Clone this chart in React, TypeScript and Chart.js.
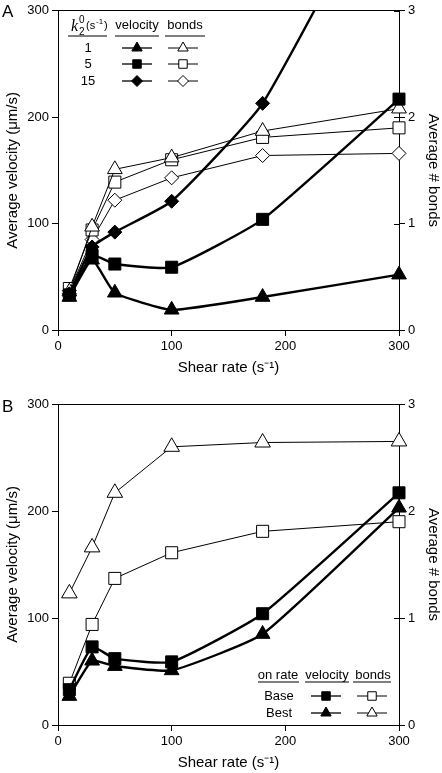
import React, { useEffect, useRef } from "react";
import { Chart, registerables } from "chart.js";

Chart.register(...registerables);

const FONT = "'Liberation Sans', Arial, Helvetica, sans-serif";
const SERIF = "'Liberation Serif', 'Times New Roman', serif";

// Shared x values (shear rate, 1/s)
const shearRates = [10, 30, 50, 100, 180, 300];

// Panel A: velocity (um/s) and bonds for k2^0 = 1, 5, 15
const velK1 = [31, 66, 35, 19, 31, 52];
const velK5 = [33, 70, 62, 59, 104, 217];
const velK15 = [34, 78, 92, 121, 213, 450];
const bondsK1 = [0.36, 0.97, 1.51, 1.62, 1.87, 2.08];
const bondsK5 = [0.39, 0.94, 1.39, 1.60, 1.81, 1.90];
const bondsK15 = [0.37, 0.85, 1.22, 1.43, 1.64, 1.66];

// Panel B: Base and Best on rate
const velBase = [33, 73, 62, 59, 104, 217];
const velBest = [27, 60, 55, 51, 85, 203];
const bondsBase = [0.39, 0.94, 1.37, 1.61, 1.81, 1.90];
const bondsBest = [1.23, 1.66, 2.17, 2.60, 2.64, 2.65];

// Axis ticks / labels
const xTicks = [0, 100, 200, 300];
const velTicks = [0, 100, 200, 300];
const bondTicks = [0, 1, 2, 3];
const legendA = ["1", "5", "15"];
const legendB = ["Base", "Best"];

type Mk = "triangle" | "rect" | "rectRot";

function drawMarker(ctx: CanvasRenderingContext2D, style: Mk, x: number, y: number, r: number, filled: boolean) {
  ctx.save();
  ctx.beginPath();
  if (style === "triangle") {
    ctx.moveTo(x, y - r);
    ctx.lineTo(x + r * 0.866, y + r * 0.5);
    ctx.lineTo(x - r * 0.866, y + r * 0.5);
    ctx.closePath();
  } else if (style === "rect") {
    const s = r * Math.SQRT1_2;
    ctx.rect(x - s, y - s, 2 * s, 2 * s);
  } else {
    ctx.moveTo(x, y - r);
    ctx.lineTo(x + r, y);
    ctx.lineTo(x, y + r);
    ctx.lineTo(x - r, y);
    ctx.closePath();
  }
  ctx.fillStyle = filled ? "#000" : "#fff";
  ctx.fill();
  ctx.lineWidth = 1;
  ctx.strokeStyle = "#000";
  ctx.stroke();
  ctx.restore();
}

function legendRow(ctx: CanvasRenderingContext2D, style: Mk, cx: number, y: number, half: number, r: number, filled: boolean, lw: number) {
  ctx.save();
  ctx.strokeStyle = "#000";
  ctx.lineWidth = lw;
  ctx.beginPath();
  ctx.moveTo(cx - half, y);
  ctx.lineTo(cx + half, y);
  ctx.stroke();
  ctx.restore();
  drawMarker(ctx, style, cx, y, r, filled);
}

function underline(ctx: CanvasRenderingContext2D, x1: number, x2: number, y: number) {
  ctx.save();
  ctx.strokeStyle = "#000";
  ctx.lineWidth = 1;
  ctx.beginPath();
  ctx.moveTo(x1, y);
  ctx.lineTo(x2, y);
  ctx.stroke();
  ctx.restore();
}

// Right-axis tick marks also reach a little inside the plot
const innerRightTicks = {
  id: "innerRightTicks",
  afterDraw(chart: any) {
    const s = chart.scales.y2;
    const ctx: CanvasRenderingContext2D = chart.ctx;
    ctx.save();
    ctx.strokeStyle = "#000";
    ctx.lineWidth = 1;
    bondTicks.forEach((v) => {
      const y = Math.round(s.getPixelForValue(v)) + 0.5;
      ctx.beginPath();
      ctx.moveTo(s.left - 5, y);
      ctx.lineTo(s.left, y);
      ctx.stroke();
    });
    ctx.restore();
  },
};

const legendPluginA = {
  id: "legendA",
  afterDraw(chart: any) {
    const ctx: CanvasRenderingContext2D = chart.ctx;
    ctx.save();
    ctx.fillStyle = "#000";
    ctx.font = `17px ${FONT}`;
    ctx.textAlign = "left";
    ctx.textBaseline = "middle";
    ctx.fillText("A", 2, 12);
    ctx.font = `italic 16px ${SERIF}`;
    ctx.textBaseline = "alphabetic";
    ctx.fillText("k", 71, 31);
    ctx.font = `10px ${FONT}`;
    ctx.fillText("2", 79, 35);
    ctx.fillText("0", 79, 23);
    ctx.font = `11px ${FONT}`;
    ctx.fillText("(s", 86, 29);
    ctx.font = `8px ${FONT}`;
    ctx.fillText("-1", 96, 24);
    ctx.font = `11px ${FONT}`;
    ctx.fillText(")", 104, 29);
    ctx.font = `13px ${FONT}`;
    ctx.textAlign = "center";
    ctx.textBaseline = "middle";
    ctx.fillText("velocity", 137, 25);
    ctx.fillText("bonds", 185, 25);
    underline(ctx, 68, 107, 36);
    underline(ctx, 115, 159, 36);
    underline(ctx, 165, 205, 36);
    const styles: Mk[] = ["triangle", "rect", "rectRot"];
    const ys = [48, 64, 81];
    legendA.forEach((lab, i) => {
      ctx.fillStyle = "#000";
      ctx.font = `13px ${FONT}`;
      ctx.textAlign = "center";
      ctx.textBaseline = "middle";
      ctx.fillText(lab, 88, ys[i]);
      const r = styles[i] === "rectRot" ? 5.5 : 6;
      legendRow(ctx, styles[i], 137, ys[i], 15, r, true, 1.3);
      legendRow(ctx, styles[i], 183, ys[i], 15, r, false, 1);
    });
    ctx.restore();
  },
};

const legendPluginB = {
  id: "legendB",
  afterDraw(chart: any) {
    const ctx: CanvasRenderingContext2D = chart.ctx;
    ctx.save();
    ctx.fillStyle = "#000";
    ctx.font = `17px ${FONT}`;
    ctx.textAlign = "left";
    ctx.textBaseline = "middle";
    ctx.fillText("B", 2, 21);
    ctx.font = `13px ${FONT}`;
    ctx.textAlign = "center";
    ctx.fillText("on rate", 278, 289);
    ctx.fillText("velocity", 327, 289);
    ctx.fillText("bonds", 373, 289);
    underline(ctx, 258, 299, 296);
    underline(ctx, 305, 349, 296);
    underline(ctx, 353, 391, 296);
    const styles: Mk[] = ["rect", "triangle"];
    const ys = [310, 327];
    legendB.forEach((lab, i) => {
      ctx.fillStyle = "#000";
      ctx.font = `13px ${FONT}`;
      ctx.textAlign = "center";
      ctx.textBaseline = "middle";
      ctx.fillText(lab, 279, ys[i]);
      legendRow(ctx, styles[i], 326, ys[i], 15, 6, true, 1.3);
      legendRow(ctx, styles[i], 372, ys[i], 15, 6, false, 1);
    });
    ctx.restore();
  },
};

function series(vals: number[]) {
  return shearRates.map((x, i) => ({ x, y: vals[i] }));
}

function ds(label: string, vals: number[], axis: string, style: Mk, filled: boolean, thick: boolean, r: number, clip: any = false) {
  return {
    type: "line" as const,
    label,
    data: series(vals),
    xAxisID: "x",
    yAxisID: axis,
    borderColor: "#000",
    borderWidth: thick ? 2.4 : 1,
    pointStyle: style,
    pointRadius: r,
    pointHoverRadius: r,
    pointBackgroundColor: filled ? "#000" : "#fff",
    pointBorderColor: "#000",
    pointBorderWidth: 1,
    tension: thick ? 0.15 : 0,
    clip,
    fill: false,
  };
}

function makeOptions(topPad: number, xHeight: number, xTitlePadBottom: number): any {
  const tickFont = { family: FONT, size: 13 };
  const titleFont = { family: FONT, size: 15 };
  const grid = { display: true, drawOnChartArea: false, drawTicks: true, tickLength: 6, color: "#000", lineWidth: 1 };
  const border = { display: true, color: "#000", width: 1 };
  return {
    responsive: false,
    animation: false,
    events: [],
    layout: { padding: { top: topPad, left: 0, right: 0, bottom: 0 } },
    plugins: { legend: { display: false }, tooltip: { enabled: false }, title: { display: false } },
    scales: {
      x: {
        type: "linear",
        position: "bottom",
        min: 0,
        max: 300,
        afterBuildTicks: (s: any) => { s.ticks = xTicks.map((v) => ({ value: v })); },
        ticks: { color: "#000", font: tickFont, padding: 3, maxRotation: 0 },
        grid,
        border,
        title: { display: true, text: "Shear rate (s\u207B\u00B9)", color: "#000", font: titleFont, padding: { top: 0, bottom: xTitlePadBottom } },
        afterFit: (s: any) => { s.height = xHeight; },
      },
      xTop: {
        type: "linear",
        position: "top",
        min: 0,
        max: 300,
        ticks: { display: false },
        grid: { display: true, drawOnChartArea: false, drawTicks: false, tickLength: 0, color: "#000" },
        border,
        afterFit: (s: any) => { s.height = 0; },
      },
      y: {
        type: "linear",
        position: "left",
        min: 0,
        max: 300,
        afterBuildTicks: (s: any) => { s.ticks = velTicks.map((v) => ({ value: v })); },
        ticks: { color: "#000", font: tickFont, padding: 3 },
        grid,
        border,
        title: { display: true, text: "Average velocity (\u03BCm/s)", color: "#000", font: titleFont, padding: { top: 4, bottom: 0 } },
        afterFit: (s: any) => { s.width = 58; },
      },
      y2: {
        type: "linear",
        position: "right",
        min: 0,
        max: 3,
        afterBuildTicks: (s: any) => { s.ticks = bondTicks.map((v) => ({ value: v })); },
        ticks: { color: "#000", font: tickFont, padding: 3 },
        grid,
        border,
        title: { display: true, text: "Average # bonds", color: "#000", font: titleFont, padding: { top: 0, bottom: 0 } },
        afterFit: (s: any) => { s.width = 43; },
      },
    },
  };
}

function PanelChart({ config, height }: { config: any; height: number }) {
  const ref = useRef<HTMLCanvasElement | null>(null);
  useEffect(() => {
    if (!ref.current) return;
    const chart = new Chart(ref.current, config);
    return () => chart.destroy();
  }, [config]);
  return <canvas ref={ref} width={442} height={height} style={{ display: "block", width: 442, height }} />;
}

const configA: any = {
  type: "line",
  data: {
    datasets: [
      ds("k1 velocity", velK1, "y", "triangle", true, true, 8.5),
      ds("k5 velocity", velK5, "y", "rect", true, true, 8.5),
      ds("k15 velocity", velK15, "y", "rectRot", true, true, 7, { left: false, right: false, top: 0, bottom: false }),
      ds("k1 bonds", bondsK1, "y2", "triangle", false, false, 8.5),
      ds("k5 bonds", bondsK5, "y2", "rect", false, false, 8.5),
      ds("k15 bonds", bondsK15, "y2", "rectRot", false, false, 7),
    ],
  },
  options: makeOptions(7, 56, 9),
  plugins: [legendPluginA, innerRightTicks],
};

const configB: any = {
  type: "line",
  data: {
    datasets: [
      ds("Base velocity", velBase, "y", "rect", true, true, 8.5),
      ds("Best velocity", velBest, "y", "triangle", true, true, 8.5),
      ds("Base bonds", bondsBase, "y2", "rect", false, false, 8.5),
      ds("Best bonds", bondsBest, "y2", "triangle", false, false, 9),
    ],
  },
  options: makeOptions(18, 48, 1),
  plugins: [legendPluginB, innerRightTicks],
};

export default function App() {
  return (
    <div style={{ position: "fixed", left: 0, top: 0, width: 442, height: 773, background: "#fff" }}>
      <PanelChart config={configA} height={386} />
      <PanelChart config={configB} height={387} />
    </div>
  );
}
